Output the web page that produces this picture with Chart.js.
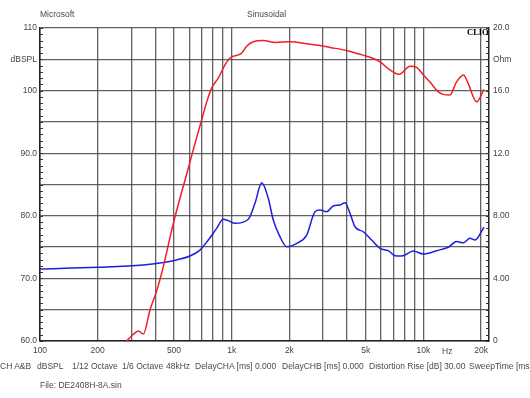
<!DOCTYPE html>
<html>
<head>
<meta charset="utf-8">
<script src="https://cdn.jsdelivr.net/npm/chart.js@4.4.0/dist/chart.umd.min.js"></script>
<style>
body { margin: 0; background: #fff; }
#wrap { position: relative; width: 530px; height: 398px; font-family: Arial, "Liberation Sans", sans-serif; color: #4a4a4a; overflow: hidden; }
#wrap canvas { position: absolute; left: 0; top: 0; }
.t { position: absolute; font-size: 8.5px; white-space: nowrap; line-height: 10px; }
</style>
</head>
<body>
<div id="wrap">
<canvas id="chart" width="530" height="398"></canvas>
<div class="t" style="left:40px;top:9px">Microsoft</div>
<div class="t" style="left:247px;top:9px">Sinusoidal</div>
<div class="t" style="left:467px;top:27px;font-family:'Liberation Serif',serif;font-weight:bold;color:#000;font-size:8.5px">CLIO</div>
<div class="t" style="left:442px;top:346px">Hz</div>
<div class="t" style="left:0px;top:361px">CH A&amp;B</div>
<div class="t" style="left:37px;top:361px">dBSPL</div>
<div class="t" style="left:72px;top:361px">1/12 Octave</div>
<div class="t" style="left:122px;top:361px">1/6 Octave</div>
<div class="t" style="left:166px;top:361px">48kHz</div>
<div class="t" style="left:195px;top:361px">DelayCHA [ms] 0.000</div>
<div class="t" style="left:282px;top:361px">DelayCHB [ms] 0.000</div>
<div class="t" style="left:369px;top:361px">Distortion Rise [dB] 30.00</div>
<div class="t" style="left:469px;top:361px">SweepTime [ms]</div>
<div class="t" style="left:40px;top:380px">File: DE2408H-8A.sin</div>
</div>
<script>
// SPL response (left axis, dBSPL)
const splFreq = [283, 305, 326, 346, 375, 406, 431, 449, 477, 506, 537, 594, 644, 697, 741, 786, 851, 923, 980, 1083, 1128, 1197, 1296, 1462, 1683, 2014, 2462, 2888, 3258, 3981, 4669, 5061, 5937, 6696, 7486, 8511, 9226, 10000, 10800, 11960, 12700, 13760, 14900, 16200, 17100, 18970, 20700];
const splDb   = [60.0, 61.0, 61.6, 61.1, 65.0, 68.0, 70.8, 73.0, 76.6, 79.8, 82.8, 87.6, 91.6, 95.3, 98.2, 100.4, 102.0, 104.1, 105.2, 105.7, 106.0, 107.1, 107.8, 108.0, 107.7, 107.8, 107.5, 107.2, 106.9, 106.4, 105.8, 105.5, 104.6, 103.3, 102.6, 103.9, 103.7, 102.5, 101.4, 99.8, 99.4, 99.3, 101.4, 102.5, 101.2, 98.2, 100.2];

// impedance (right axis, Ohm)
const impFreq = [100, 200, 346, 449, 516, 606, 683, 755, 835, 904, 960, 1040, 1221, 1323, 1434, 1552, 1648, 1786, 1935, 2183, 2462, 2720, 2888, 3130, 3389, 3672, 3900, 4142, 4398, 4860, 5375, 5937, 6559, 7110, 7705, 8857, 10000, 11730, 13490, 14900, 16200, 17500, 18600, 20700];
const impOhm  = [4.60, 4.71, 4.86, 5.03, 5.18, 5.43, 5.81, 6.45, 7.20, 7.78, 7.69, 7.52, 7.78, 8.80, 10.11, 9.12, 7.73, 6.67, 6.03, 6.24, 6.77, 8.26, 8.37, 8.26, 8.63, 8.69, 8.84, 8.16, 7.30, 6.98, 6.45, 5.92, 5.77, 5.45, 5.43, 5.75, 5.56, 5.77, 5.99, 6.35, 6.28, 6.56, 6.45, 7.27];

// axes
const gridFreqs = [100, 200, 300, 400, 500, 600, 700, 800, 900, 1000, 2000, 3000, 4000, 5000, 6000, 7000, 8000, 9000, 10000, 20000];
const freqLabels = { 100: '100', 200: '200', 500: '500', 1000: '1k', 2000: '2k', 5000: '5k', 10000: '10k', 20000: '20k' };
const dbLabels = { 110: '110', 105: 'dBSPL', 100: '100', 90: '90.0', 80: '80.0', 70: '70.0', 60: '60.0' };
const ohmLabels = { 20: '20.0', 18: 'Ohm', 16: '16.0', 12: '12.0', 8: '8.00', 4: '4.00', 0: '0' };

const gridColor = 'rgba(70,70,70,0.85)';
const tickFont = { family: 'Arial, "Liberation Sans", sans-serif', size: 8.5 };

// small ticks just inside the left and right axes
const minorTicks = {
    id: 'minorTicks',
    afterDatasetsDraw(chart) {
        const ctx = chart.ctx;
        const area = chart.chartArea;
        const yl = chart.scales.y;
        const yr = chart.scales.y2;
        ctx.save();
        ctx.strokeStyle = '#333';
        ctx.lineWidth = 1;
        ctx.beginPath();
        for (let v = 60; v <= 110; v++) {
            const p = Math.round(yl.getPixelForValue(v)) + 0.5;
            ctx.moveTo(area.left, p);
            ctx.lineTo(area.left + 3, p);
        }
        for (let v = 0; v <= 20.001; v += 0.4) {
            const p = Math.round(yr.getPixelForValue(v)) + 0.5;
            ctx.moveTo(area.right - 3, p);
            ctx.lineTo(area.right, p);
        }
        ctx.stroke();
        ctx.restore();
    }
};

new Chart(document.getElementById('chart'), {
    type: 'line',
    data: {
        datasets: [
            {
                label: 'dBSPL',
                data: splFreq.map((f, i) => ({ x: f, y: splDb[i] })),
                yAxisID: 'y',
                borderColor: 'rgb(240,30,40)',
                borderWidth: 1.5,
                pointRadius: 0,
                cubicInterpolationMode: 'monotone'
            },
            {
                label: 'Ohm',
                data: impFreq.map((f, i) => ({ x: f, y: impOhm[i] })),
                yAxisID: 'y2',
                borderColor: 'rgb(30,30,220)',
                borderWidth: 1.5,
                pointRadius: 0,
                cubicInterpolationMode: 'monotone'
            }
        ]
    },
    options: {
        responsive: false,
        animation: false,
        layout: { padding: { top: 28, left: 0, right: 0, bottom: 0 } },
        plugins: { legend: { display: false }, tooltip: { enabled: false } },
        scales: {
            x: {
                type: 'logarithmic',
                min: 100,
                max: 22000,
                afterBuildTicks: scale => { scale.ticks = gridFreqs.map(v => ({ value: v })); },
                afterFit: scale => { scale.height = 57; },
                grid: { color: gridColor, lineWidth: 1.3, drawTicks: false },
                border: { color: '#222', width: 1.5 },
                ticks: {
                    autoSkip: false,
                    maxRotation: 0,
                    padding: 5,
                    color: '#444',
                    font: tickFont,
                    callback: v => freqLabels[v] || ''
                }
            },
            y: {
                position: 'left',
                min: 60,
                max: 110,
                afterFit: scale => { scale.width = 40; },
                grid: { color: gridColor, lineWidth: 1.3, drawTicks: false },
                border: { color: '#222', width: 1.5 },
                ticks: {
                    stepSize: 5,
                    padding: 3,
                    color: '#444',
                    font: tickFont,
                    callback: v => dbLabels[v] || ''
                }
            },
            y2: {
                position: 'right',
                min: 0,
                max: 20,
                afterFit: scale => { scale.width = 41; },
                grid: { drawOnChartArea: false, drawTicks: false },
                border: { color: '#222', width: 1.5 },
                ticks: {
                    stepSize: 2,
                    padding: 4,
                    color: '#444',
                    font: tickFont,
                    callback: v => ohmLabels[v] || ''
                }
            }
        }
    },
    plugins: [minorTicks]
});
</script>
</body>
</html>
